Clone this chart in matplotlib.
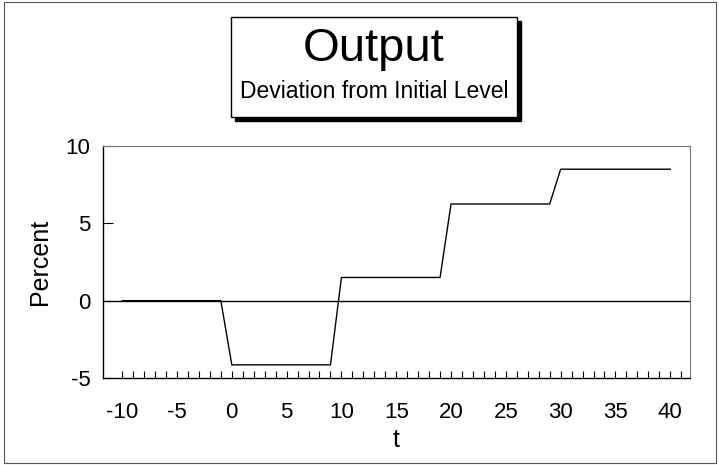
import matplotlib
matplotlib.use("Agg")
import matplotlib.pyplot as plt
from matplotlib.patches import Rectangle
from matplotlib.ticker import FixedLocator

plt.rcParams['font.family'] = ['Liberation Sans', 'DejaVu Sans']
plt.rcParams['axes.unicode_minus'] = False

# output path, percent deviation from initial level
t = [-10, -1, 0, 9, 10, 19, 20, 29, 30, 40]
pct = [0, 0, -4.15, -4.15, 1.5, 1.5, 6.25, 6.25, 8.5, 8.5]

x_ticks = [-10, -5, 0, 5, 10, 15, 20, 25, 30, 35, 40]
y_ticks = [-5, 0, 5, 10]

W, H = 719, 465
fig = plt.figure(figsize=(W / 100, H / 100), dpi=100)

def px(x0, y0, x1, y1):
    # pixel box (top-left origin) -> figure fraction
    return (x0 / W, 1 - y1 / H, (x1 - x0) / W, (y1 - y0) / H)

# outer frame
fig.patches.append(Rectangle((4 / W, 1 - 463 / H), 712 / W, 461 / H, transform=fig.transFigure,
                             fill=False, edgecolor='#555555', lw=0.8))

# title box with drop shadow
bx0, by0, bx1, by1 = 231, 17, 517, 117
sx, sy, sw, sh = px(bx0 + 4, by0 + 4, bx1 + 4, by1 + 4)
fig.patches.append(Rectangle((sx, sy), sw, sh, transform=fig.transFigure,
                             facecolor='black', edgecolor='black', lw=1))
rx, ry, rw, rh = px(bx0, by0, bx1, by1)
fig.patches.append(Rectangle((rx, ry), rw, rh, transform=fig.transFigure,
                             facecolor='white', edgecolor='black', lw=1))
fig.text((bx0 + bx1) / 2 / W, 1 - 49 / H, 'Output', ha='center', va='center', fontsize=34)
fig.text((bx0 + bx1) / 2 / W, 1 - 92 / H, 'Deviation from Initial Level', ha='center', va='center', fontsize=16.5)

ax = fig.add_axes(px(103, 146, 690, 378))
ax.plot(t, pct, color='black', lw=1)
ax.axhline(0, color='black', lw=1)

ax.set_xlim(-11.75, 41.8)
ax.set_ylim(-5, 10)
ax.xaxis.set_major_locator(FixedLocator(x_ticks))
ax.xaxis.set_minor_locator(FixedLocator(list(range(-10, 42))))
ax.yaxis.set_major_locator(FixedLocator(y_ticks))

ax.tick_params(axis='x', which='both', direction='in', length=5, width=0.8, pad=17, labelsize=16)
ax.tick_params(axis='y', which='major', direction='in', length=7, width=0.8, pad=9, labelsize=16)
ax.tick_params(top=False, right=False)

for side in ['top', 'right']:
    ax.spines[side].set_color('#777777')
    ax.spines[side].set_linewidth(0.8)
for side in ['left', 'bottom']:
    ax.spines[side].set_linewidth(1)

ax.set_ylabel('Percent', fontsize=18, labelpad=10)
ax.set_xlabel('t', fontsize=18, labelpad=4)

fig.savefig('out.png', dpi=100)
